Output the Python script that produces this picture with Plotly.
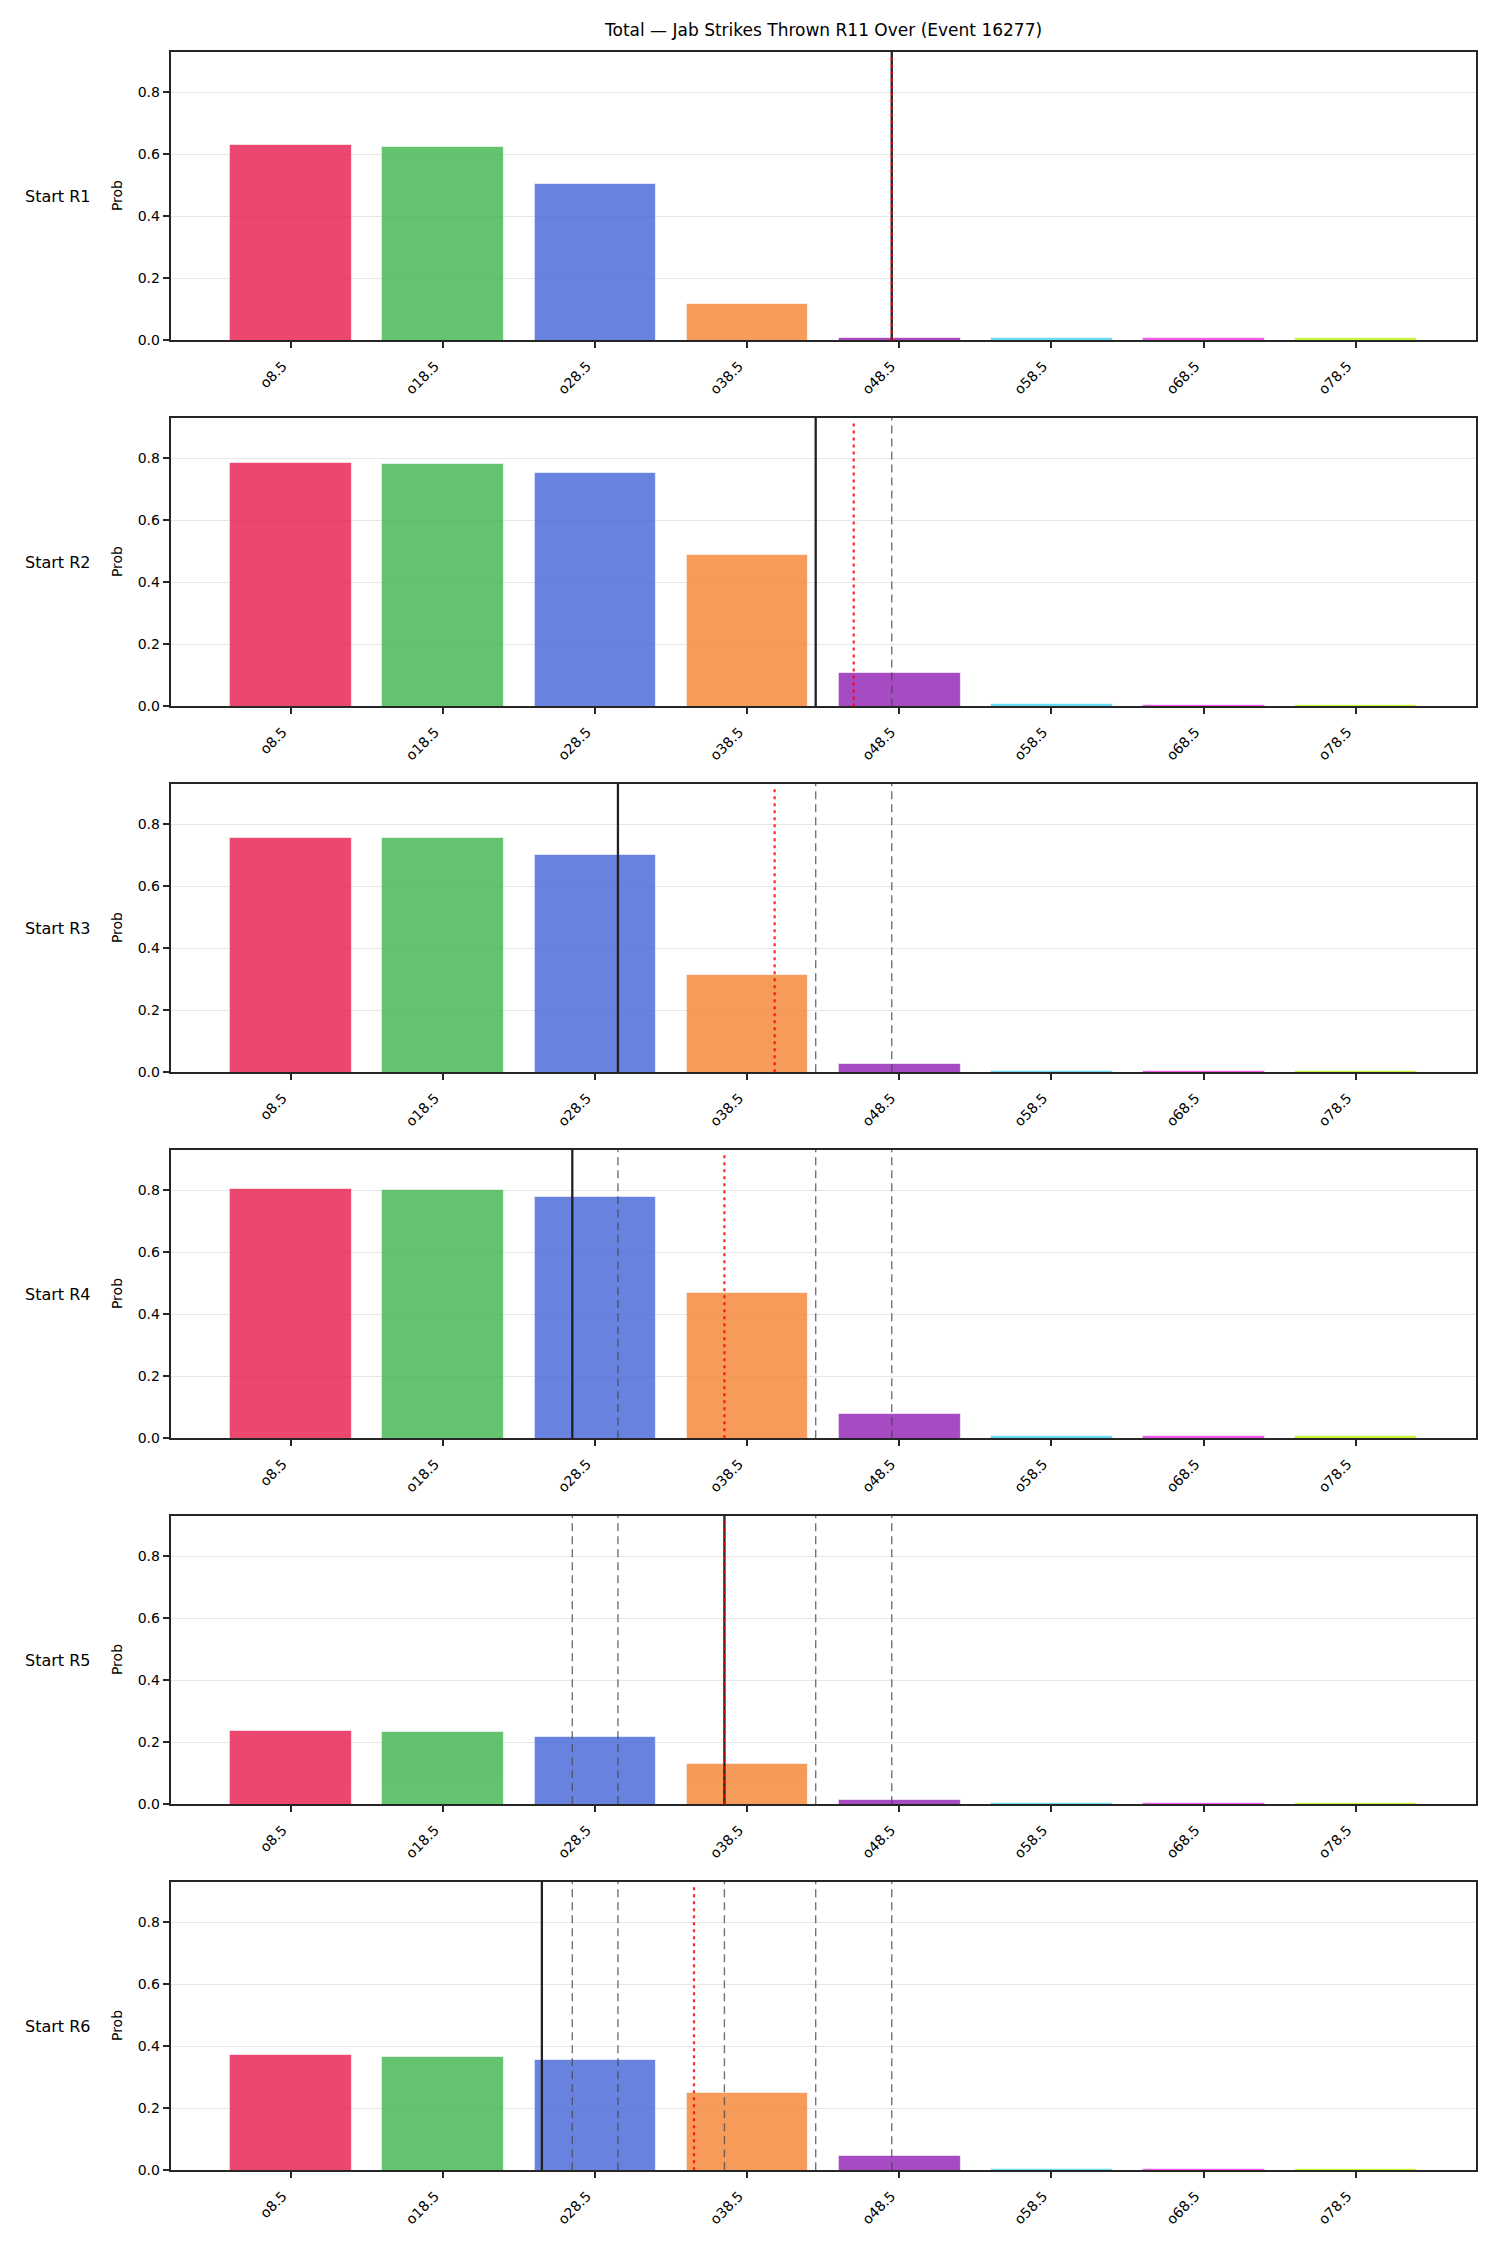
import plotly.graph_objects as go

# ---------------- data ----------------
thresholds = [8.5, 18.5, 28.5, 38.5, 48.5, 58.5, 68.5, 78.5]
tick_labels = ["o8.5", "o18.5", "o28.5", "o38.5", "o48.5", "o58.5", "o68.5", "o78.5"]
row_labels = ["Start R1", "Start R2", "Start R3", "Start R4", "Start R5", "Start R6"]

probs_r1 = [0.631, 0.625, 0.504, 0.118, 0.009, 0.008, 0.008, 0.007]
probs_r2 = [0.785, 0.782, 0.753, 0.488, 0.107, 0.0075, 0.004, 0.004]
probs_r3 = [0.755, 0.755, 0.700, 0.314, 0.029, 0.005, 0.005, 0.004]
probs_r4 = [0.804, 0.801, 0.778, 0.470, 0.078, 0.0075, 0.0075, 0.0075]
probs_r5 = [0.2375, 0.234, 0.219, 0.130, 0.014, 0.004, 0.004, 0.004]
probs_r6 = [0.372, 0.366, 0.356, 0.250, 0.048, 0.005, 0.005, 0.005]
all_probs = [probs_r1, probs_r2, probs_r3, probs_r4, probs_r5, probs_r6]

current_lines = [48.0, 43.0, 30.0, 27.0, 37.0, 25.0]   # black solid
mean_lines = [48.0, 45.5, 40.3, 37.0, 37.0, 35.0]      # red dotted

bar_colors = ["#e6194b", "#3cb44b", "#4363d8", "#f58231",
              "#911eb4", "#42d4f4", "#f032e6", "#bcf60c"]

title_text = "Total — Jab Strikes Thrown R11 Over (Event 16277)"

# ---------------- layout geometry ----------------
W, H = 1500, 2250
x_left, x_right = 170.7, 1475.9
top0, period, ph = 52.0, 367.3, 289.6

FONT = "DejaVu Sans"
AXCOL = "#262626"

fig = go.Figure()
layout = dict(
    width=W, height=H,
    margin=dict(l=0, r=0, t=0, b=0),
    paper_bgcolor="white", plot_bgcolor="white",
    showlegend=False,
    font=dict(family=FONT, size=14, color="#000000"),
    bargap=0,
)
shapes = []
annotations = []

for i, probs in enumerate(all_probs):
    n = i + 1
    xa = "x" if n == 1 else f"x{n}"
    ya = "y" if n == 1 else f"y{n}"
    top = top0 + period * i
    y1 = 1 - top / H
    y0 = 1 - (top + ph) / H

    fig.add_trace(go.Bar(
        x=thresholds, y=probs, width=8,
        marker=dict(color=bar_colors, opacity=0.8,
                    line=dict(color="white", width=0.6)),
        xaxis=xa, yaxis=ya, hoverinfo="x+y",
    ))

    layout["xaxis" if n == 1 else f"xaxis{n}"] = dict(
        domain=[x_left / W, x_right / W], anchor=ya,
        range=[thresholds[0] - 7.9, thresholds[-1] + 7.9],
        tickmode="array", tickvals=thresholds, ticktext=tick_labels,
        tickangle=-45, ticks="outside", ticklen=6, tickwidth=1.5,
        tickcolor=AXCOL, showgrid=False, zeroline=False,
        showline=True, mirror=True, linecolor=AXCOL, linewidth=2,
        ticklabelshift=-8, ticklabelstandoff=4,
        tickfont=dict(family=FONT, size=14, color="#000000"),
    )
    layout["yaxis" if n == 1 else f"yaxis{n}"] = dict(
        domain=[y0, y1], anchor=xa,
        range=[0, 0.93],
        tickmode="array", tickvals=[0, 0.2, 0.4, 0.6, 0.8],
        ticktext=["0.0", "0.2", "0.4", "0.6", "0.8"],
        ticks="outside", ticklen=6, tickwidth=1.5, tickcolor=AXCOL,
        showgrid=True, gridcolor="#e6e6e6", gridwidth=1, zeroline=False,
        showline=True, mirror=True, linecolor=AXCOL, linewidth=2,
        tickfont=dict(family=FONT, size=14, color="#000000"),
    )

    # previous rounds' lines: grey dashed
    for prev in current_lines[:i]:
        shapes.append(dict(type="line", xref=xa, yref=f"{ya} domain",
                           x0=prev, x1=prev, y0=0, y1=1,
                           line=dict(color="rgba(70,70,70,0.75)", width=1.4, dash="8px,5px")))
    # current line: black solid
    shapes.append(dict(type="line", xref=xa, yref=f"{ya} domain",
                       x0=current_lines[i], x1=current_lines[i], y0=0, y1=1,
                       line=dict(color="#222222", width=2.3)))
    # mean line: red dotted
    shapes.append(dict(type="line", xref=xa, yref=f"{ya} domain",
                       x0=mean_lines[i], x1=mean_lines[i], y0=0, y1=0.985,
                       line=dict(color="rgba(255,0,0,0.85)", width=2.2, dash="3px,4px")))

    # row label
    annotations.append(dict(text=row_labels[i], xref="paper", yref="paper",
                            x=23 / W, y=(y0 + y1) / 2, xanchor="left", yanchor="middle",
                            showarrow=False, font=dict(family=FONT, size=16, color="#000000")))
    # y title
    annotations.append(dict(text="Prob", xref="paper", yref="paper",
                            x=117 / W, y=(y0 + y1) / 2, xanchor="center", yanchor="middle",
                            textangle=-90, showarrow=False,
                            font=dict(family=FONT, size=14, color="#000000")))

annotations.append(dict(text=title_text, xref="paper", yref="paper",
                        x=(x_left + x_right) / 2 / W, y=1 - 30.5 / H,
                        xanchor="center", yanchor="middle", showarrow=False,
                        font=dict(family=FONT, size=17, color="#000000")))

layout["shapes"] = shapes
layout["annotations"] = annotations
fig.update_layout(**layout)
fig.write_html("out.html")
